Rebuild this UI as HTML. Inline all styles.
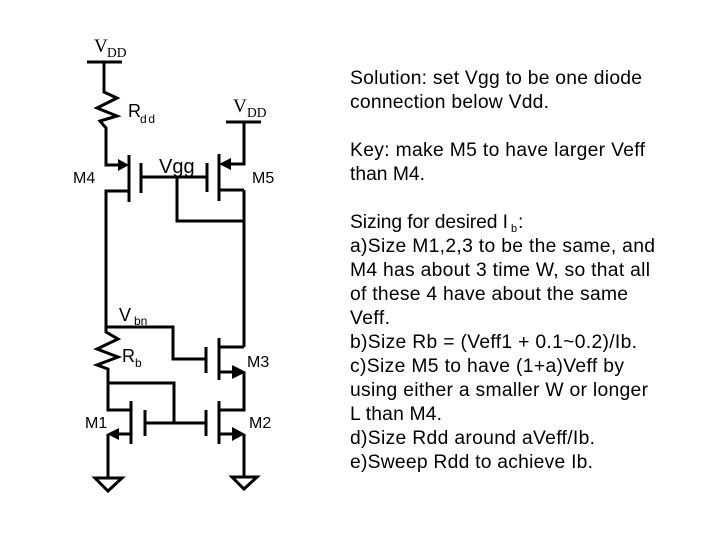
<!DOCTYPE html>
<html><head><meta charset="utf-8"><style>html,body{margin:0;padding:0;background:#fff}svg{display:block}text{font-family:"Liberation Sans",sans-serif;fill:#000}.s{font-family:"Liberation Serif",serif}.t{font-size:19.3px}.m{font-size:16px}</style></head>
<body><svg width="720" height="540" viewBox="0 0 720 540" xmlns="http://www.w3.org/2000/svg">
<g fill="none" stroke="#000" stroke-width="3">
<path d="M87 62H122M104 62V92L117 98L97 108L117 116L100 121L106 128V165H120"/>
<path d="M129 155V202M141 163V193M141 177H207M207 163V192M219 154V201"/>
<path d="M226 122H261M244 122V164H229M219 190H244M177 177V221H244M244 190V347"/>
<path d="M129 191H106V332L118 339L97 349L118 357L97 365L108 369V410H131"/>
<path d="M106 327H173V359H206M206 347V373M219 338V380M219 347H244M219 372H234M244 372V410H219"/>
<path d="M219 401V444M206 410V436M146 423H206M131 401V444M145 410V436M108 383H174V423"/>
<path d="M131 434H117M108 434V477M219 434H234M244 434V476"/>
<path d="M95 478H122L108 491ZM232 477H257L244 489Z"/>
</g>
<g fill="#000">
<path d="M129 165L118 159V171ZM219 164L231 158V170ZM246 372L232 365V379ZM245 434L232 427V441ZM107 434L119 428V440Z"/>
</g>
<text class="s" x="94" y="52" font-size="19">V</text><text class="s" x="107" y="57" font-size="13.5">DD</text>
<text class="s" x="233" y="112" font-size="19">V</text><text class="s" x="247" y="117" font-size="13.5">DD</text>
<text x="128" y="117" font-size="18">R</text><text x="140" y="123" font-size="12" textLength="15">dd</text>
<text class="m" x="73" y="183">M4</text><text x="159" y="173" font-size="20">Vgg</text><text class="m" x="252" y="183">M5</text>
<text x="119" y="321" font-size="18">V</text><text x="134" y="325" font-size="12">bn</text>
<text x="122" y="362" font-size="18">R</text><text x="135" y="367" font-size="12">b</text>
<text class="m" x="247" y="367">M3</text><text class="m" x="85" y="428">M1</text><text class="m" x="249" y="428">M2</text>
<g class="t">
<text class="t" x="350" y="84" textLength="292">Solution: set Vgg to be one diode</text>
<text class="t" x="350" y="108" textLength="199">connection below Vdd.</text>
<text class="t" x="350" y="156" textLength="295">Key: make M5 to have larger Veff</text>
<text class="t" x="350" y="180" textLength="75">than M4.</text>
<text class="t" x="350" y="228" textLength="158">Sizing for desired I</text><text x="511" y="232" font-size="11">b</text><text class="t" x="518" y="228">:</text>
<text class="t" x="350" y="252" textLength="305">a)Size M1,2,3 to be the same, and</text>
<text class="t" x="350" y="276" textLength="300">M4 has about 3 time W, so that all</text>
<text class="t" x="350" y="300" textLength="278">of these 4 have about the same</text>
<text class="t" x="350" y="324" textLength="40">Veff.</text>
<text class="t" x="350" y="348" textLength="287">b)Size Rb = (Veff1 + 0.1~0.2)/Ib.</text>
<text class="t" x="350" y="372" textLength="274">c)Size M5 to have (1+a)Veff by</text>
<text class="t" x="350" y="396" textLength="298">using either a smaller W or longer</text>
<text class="t" x="350" y="420" textLength="92">L than M4.</text>
<text class="t" x="350" y="444" textLength="245">d)Size Rdd around aVeff/Ib.</text>
<text class="t" x="350" y="468" textLength="243">e)Sweep Rdd to achieve Ib.</text>
</g>
</svg></body></html>
